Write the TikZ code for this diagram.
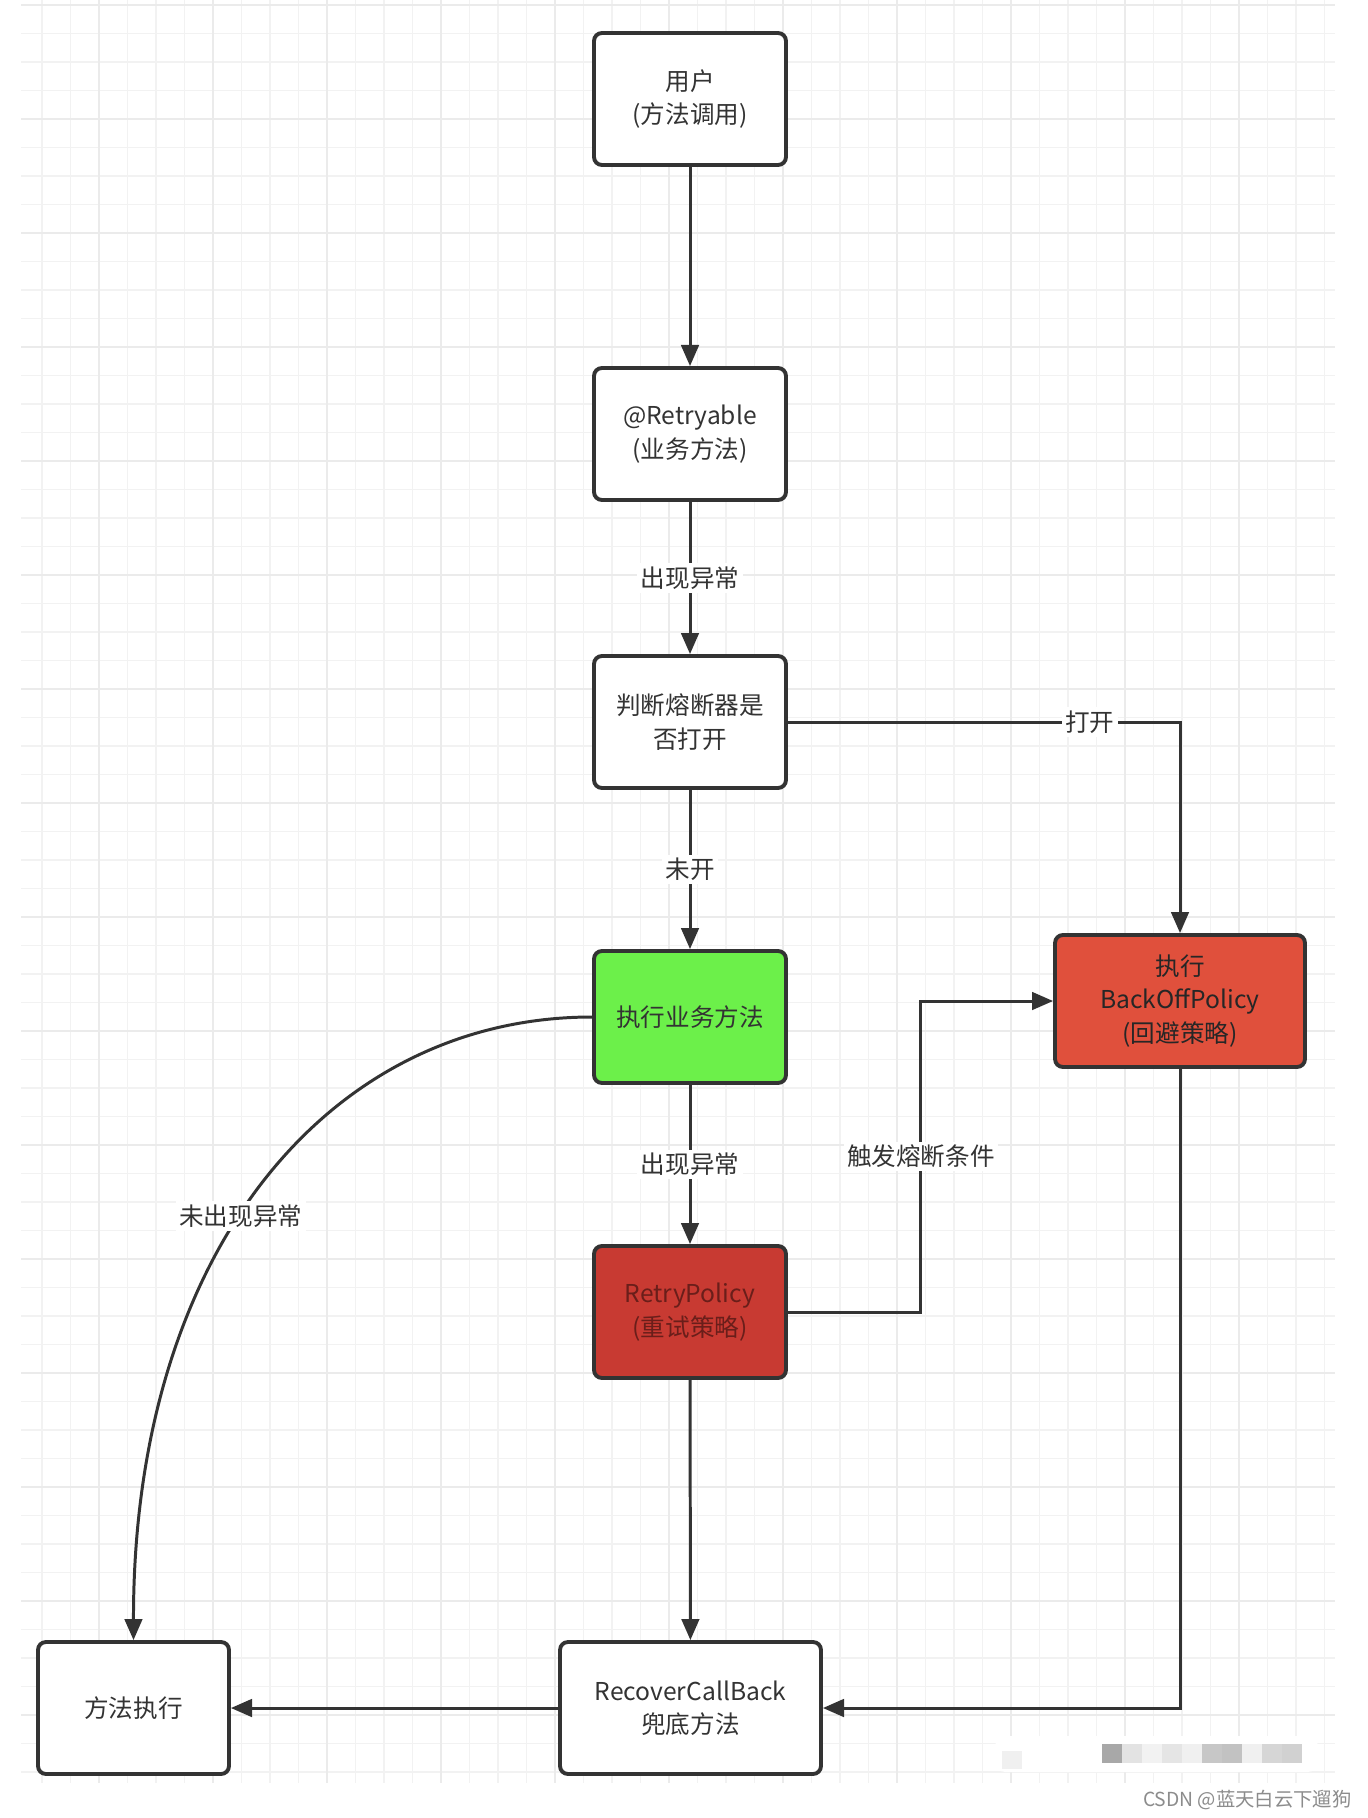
\documentclass[tikz,border=0pt]{standalone}
\usepackage{fontspec}
\setmainfont{Noto Sans CJK SC}
\usetikzlibrary{arrows.meta}
\definecolor{edgegray}{HTML}{333333}
\definecolor{okgreen}{HTML}{6CF04A}
\definecolor{backred}{HTML}{E0503C}
\definecolor{retryred}{HTML}{C83A32}
\definecolor{retrytext}{HTML}{6A1E1A}
\tikzset{
  box/.style={draw=edgegray, line width=2.2pt, rounded corners=4.5pt, fill=white, align=center,
    text=edgegray, minimum width=3.84cm, minimum height=2.64cm, font=\fontsize{14pt}{19pt}\selectfont},
  lbl/.style={fill=white, inner sep=2pt, text=edgegray, font=\fontsize{14pt}{19pt}\selectfont},
  gridminor/.style={draw=black!5, line width=1pt},
  gridmajor/.style={draw=black!8, line width=1.4pt}
}

\begin{document}
\begin{tikzpicture}[x=0.02cm, y=-0.02cm, >={Triangle[length=12pt,width=10pt]}, line width=1.7pt, draw=edgegray]
\useasboundingbox (0,0) rectangle (1368,1818);
\fill[white] (0,0) rectangle (1368,1818);
\foreach \i in {0,...,45} {\draw[gridminor] ({42+28.5*\i},0) -- ({42+28.5*\i},1783);}
\foreach \j in {0,...,62} {\draw[gridminor] (21,{5+28.5*\j}) -- (1335,{5+28.5*\j});}
\foreach \i in {2,6,...,42} {\draw[gridmajor] ({42+28.5*\i},0) -- ({42+28.5*\i},1783);}
\foreach \j in {0,4,...,60} {\draw[gridmajor] (21,{5+28.5*\j}) -- (1335,{5+28.5*\j});}

\node[box] (user) at (690,99) {用户\\(方法调用)};
\node[box] (retryable) at (690,434) {@Retryable\\(业务方法)};
\node[box] (judge) at (690,722) {判断熔断器是\\否打开};
\node[box, fill=okgreen] (exec) at (690,1017) {执行业务方法};
\node[box, fill=retryred, text=retrytext] (retry) at (690,1312) {RetryPolicy\\(重试策略)};
\node[box, fill=backred, text=black!85, minimum width=5cm] (backoff) at (1180,1001) {执行\\BackOffPolicy\\(回避策略)};
\node[box, minimum width=3.82cm] (done) at (133.5,1708) {方法执行};
\node[box, minimum width=5.22cm] (recover) at (690.5,1708) {RecoverCallBack\\兜底方法};

\draw[->] (user) -- (retryable);
\draw[->] (retryable) -- node[lbl] {出现异常} (judge);
\draw[->] (judge.east) -| node[lbl, pos=0.385] {打开} (backoff.north);
\draw[->] (judge) -- node[lbl] {未开} (exec);
\draw[->] (exec) -- node[lbl] {出现异常} (retry);
\draw[->] (retry.east) -- ++(133,0) |- node[lbl, pos=0.25] {触发熔断条件} (backoff.west);
\draw[->] (exec.west) .. controls (330,1017) and (133,1250) .. node[lbl, pos=0.55] {未出现异常} (done.north);
\draw[->] (retry) -- (recover);
\draw[->] (backoff.south) |- (recover.east);
\draw[->] (recover) -- (done);

\fill[white, rounded corners=6pt] (995,1736) rectangle (1318,1772);
\fill[black!6] (1002,1751) rectangle (1022,1769);
\foreach \v [count=\k from 0] in {34,11,5,10,6,22,24,6,16,18} {\fill[black!\v] ({1102+20*\k},1744) rectangle +(20,19);}
\node[anchor=east, inner sep=0pt, text=black!45, font=\fontsize{11pt}{13pt}\selectfont] (mark) at (1353,1800) {CSDN @蓝天白云下遛狗};
\end{tikzpicture}
\end{document}
